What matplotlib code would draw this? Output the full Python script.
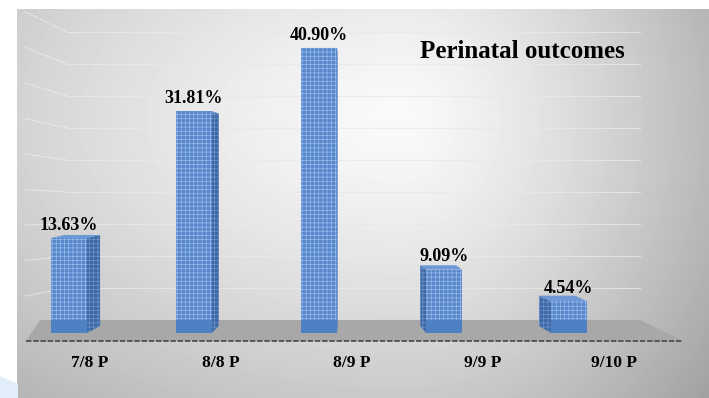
"""
Perinatal outcomes - pseudo 3D column chart.
"""
import matplotlib
matplotlib.use("Agg")
import matplotlib.pyplot as plt
import numpy as np
from matplotlib.patches import Polygon

categories = ["7/8 P", "8/8 P", "8/9 P", "9/9 P", "9/10 P"]
values = [13.63, 31.81, 40.90, 9.09, 4.54]
value_labels = ["13.63%", "31.81%", "40.90%", "9.09%", "4.54%"]
title = "Perinatal outcomes"

W, H = 709, 398
FONT = ["Liberation Serif", "DejaVu Serif"]

# pixel layout of the plot
X0, STEP = 69, 125        # first bar centre, bar spacing (px)
BASE, PPU = 333, 6.97     # baseline (px from top), px per percent
BAR_W = 36                # front face width (px)

plt.rcParams["hatch.linewidth"] = 0.5

fig = plt.figure(figsize=(W / 100, H / 100), dpi=100)
fig.patch.set_facecolor("white")

# gradient background
bg = fig.add_axes([17 / W, 0, 1 - 17 / W, 1 - 9 / H])
yy, xx = np.mgrid[9:H, 17:W]
dxs = np.where(xx > 400, (xx - 400) * 1.0, (400 - xx) * 0.55)
d = np.hypot(dxs, (yy - 120) * 0.9)
shade = np.clip(250 - 70 * (d / 330) ** 1.3, 160, 250) / 255
bg.imshow(shade, cmap="gray", vmin=0, vmax=1, aspect="auto",
          extent=[0, 1, 0, 1], interpolation="bilinear")
bg.axis("off")

ax = fig.add_axes([0, 0, 1, 1])
ax.patch.set_alpha(0)
ax.set_xlim(-X0 / STEP, (W - X0) / STEP)
ax.set_ylim(-(H - BASE) / PPU, BASE / PPU)
ax.axis("off")


def px(x, y):
    return ((x - X0) / STEP, (BASE - y) / PPU)


def depth_dy(y):
    # perspective shift of the receding edge, px
    return -(y - 166) * 0.042


# back wall gridlines
for k in range(1, 10):
    yb = 320 - 32 * k
    yl = yb + (yb - 215) * 0.11
    xs, ys = zip(px(25, yl), px(67, yb))
    ax.plot(xs, ys, color="#f4f4f4", lw=0.8, ls=(0, (2, 1)), alpha=0.8, zorder=1)
    xs, ys = zip(px(67, yb), px(640, yb))
    ax.plot(xs, ys, color="#e9e9e9", lw=0.8, alpha=0.8, zorder=1)

# floor
floor = Polygon([px(40, 320), px(640, 320), px(683, 341), px(26, 341)],
                closed=True, facecolor="#a8a8a8", edgecolor="none", zorder=1.5)
ax.add_patch(floor)
fx, fy = zip(px(26, 341), px(683, 341))
ax.plot(fx, fy, color="#505050", lw=1.3, ls=(0, (3, 1)), zorder=1.6)

# bars
x = np.arange(len(categories))
w = BAR_W / STEP
for i, v in enumerate(values):
    cx = X0 + STEP * i
    dx = (330 - cx) * 0.05
    ytop = BASE - v * PPU
    xe = cx + BAR_W / 2 if dx > 0 else cx - BAR_W / 2
    side = [px(xe, ytop), px(xe + dx, ytop + depth_dy(ytop)),
            px(xe + dx, BASE + depth_dy(BASE)), px(xe, BASE)]
    ax.add_patch(Polygon(side, closed=True, facecolor="#3c69a6",
                         edgecolor="#6f93c8", hatch="++++", lw=0, zorder=2))
    top = [px(cx - BAR_W / 2, ytop), px(cx + BAR_W / 2, ytop),
           px(cx + BAR_W / 2 + dx, ytop + depth_dy(ytop)),
           px(cx - BAR_W / 2 + dx, ytop + depth_dy(ytop))]
    ax.add_patch(Polygon(top, closed=True, facecolor="#6d9ad6",
                         edgecolor="none", zorder=2.1))

ax.bar(x, values, width=w, color="#5686cc", edgecolor="none", zorder=3)
ax.bar(x, values, width=w, color="none", edgecolor="#9cbbe8", hatch="++++",
       lw=0, zorder=3.1)
ax.bar(x, [13 / PPU] * len(x), width=w, color="#4f80c4", zorder=3.2)

for i, (v, lbl) in enumerate(zip(values, value_labels)):
    ax.annotate(lbl, (i, v), xytext=(0, 3), textcoords="offset points",
                ha="center", va="bottom", fontsize=13, fontweight="bold",
                family=FONT, color="black", zorder=5)

# category labels (shifted by the 3D projection)
for i, cat in enumerate(categories):
    lx, ly = px(90 + 131 * i, 363)
    ax.text(lx, ly, cat, ha="center", va="center", fontsize=12.5,
            fontweight="bold", family=FONT, zorder=5)

fig.text(522 / W, 1 - 52 / H, title, ha="center", va="center", fontsize=18,
         fontweight="bold", family=FONT)

# light blue corner shape
fig.patches.append(Polygon([(0, 0), (18 / W, 0), (18 / W, 14 / H), (0, 22 / H)],
                           closed=True, transform=fig.transFigure,
                           facecolor="#e1eefa", edgecolor="none"))

fig.savefig("out.png", dpi=100)
plt.close()
